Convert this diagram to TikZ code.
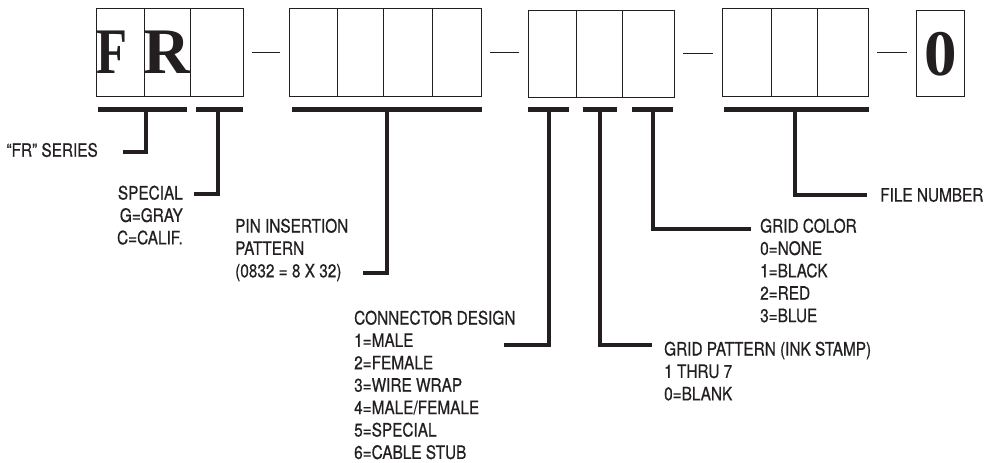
\documentclass[tikz,border=0pt]{standalone}
\usepackage{graphicx}
\usepackage{fontspec}
\setmainfont{TeX Gyre Heros}[FakeStretch=0.83,FakeBold=0.6]
\newfontfamily\codefont{Liberation Serif}
\definecolor{ink}{RGB}{35,31,32}
\begin{document}
\begin{tikzpicture}[x=1pt,y=-1pt,every node/.style={font=\fontsize{18.5}{22.4}\selectfont,text=ink,inner sep=0pt},cell/.style={draw=ink,line width=0.9pt,outer sep=0pt},hyphen/.style={draw=ink,line width=0.9pt,shorten <=9pt,shorten >=9pt},bar/.style={draw=ink,line width=5pt},lead/.style={draw=ink,line width=4pt},big/.style={font=\codefont\bfseries\fontsize{65}{65}\selectfont,anchor=base}]
\useasboundingbox (0,0) rectangle (986,463);
\foreach \nm/\xa/\xb/\ya/\yb in {c11/96/144/8/96,c12/144/190/8/96,c13/190/243/8/96,c21/289/337/8/96,c22/337/383/8/96,c23/383/432/8/96,c24/432/481/8/96,c31/528/576/10/97,c32/576/622/10/97,c33/622/674/10/97,c41/722/771/8/96,c42/771/817/8/96,c43/817/868/8/96,c5/916/964/10/96}
  \node[cell,minimum width={\xb-\xa},minimum height={\yb-\ya}] (\nm) at ({(\xa+\xb)/2},{(\ya+\yb)/2}) {};
\node[big] (F) at (112,73) {\scalebox{0.78}[1]{F}};\node[big] (R) at (167,73) {R};\node[big] (Z) at (941,75) {0};
\foreach \a/\b in {c13/c21,c24/c31,c33/c41,c43/c5} \draw[hyphen] (\a.east) -- (\a.east -| \b.west);
\foreach \xa/\xb in {98/187,196/243,292/482,528/569,583/617,632/673,724/869} \draw[bar] (\xa,109) -- (\xb,109);
\coordinate (s1) at (146,109);\coordinate (e1) at (123,152);
\coordinate (s2) at (218,109);\coordinate (e2) at (194,194);
\coordinate (s3) at (387,109);\coordinate (e3) at (363,273);
\coordinate (s4) at (549,109);\coordinate (e4) at (504,345);
\coordinate (s5) at (600,109);\coordinate (e5) at (652,345);
\coordinate (s6) at (653,109);\coordinate (e6) at (751,229);
\coordinate (s7) at (795,109);\coordinate (e7) at (867,195);
\foreach \i in {1,...,7} \draw[lead] (s\i) |- (e\i);
\node[anchor=east] (fr) at (98,150) {“FR” SERIES};
\node[anchor=north east,align=right] (spec) at (183,185.5) {SPECIAL\\G=GRAY\\C=CALIF.};
\node[anchor=north west,align=left] (pin) at (235,218.5) {PIN INSERTION\\PATTERN\\(0832 = 8 X 32)};
\node[anchor=north west,align=left] (conn) at (354,310.5) {CONNECTOR DESIGN\\1=MALE\\2=FEMALE\\3=WIRE WRAP\\4=MALE/FEMALE\\5=SPECIAL\\6=CABLE STUB};
\node[anchor=north west,align=left] (pat) at (664,341.5) {GRID PATTERN (INK STAMP)\\1 THRU 7\\0=BLANK};
\node[anchor=north west,align=left] (col) at (760,218.5) {GRID COLOR\\0=NONE\\1=BLACK\\2=RED\\3=BLUE};
\node[anchor=west] (fn) at (880,195) {FILE NUMBER};
\end{tikzpicture}
\end{document}
